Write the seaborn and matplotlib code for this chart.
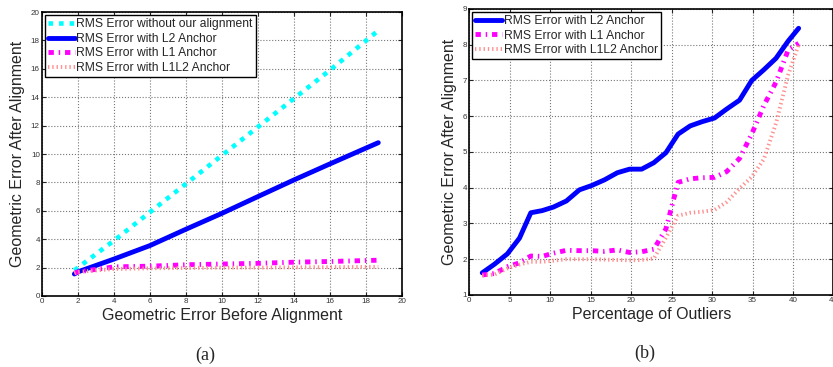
import numpy as np
import pandas as pd
import seaborn as sns
import matplotlib.pyplot as plt

# (a) error before alignment vs after
before = [1.8, 2.0, 4.0, 6.0, 8.0, 10.0, 12.0, 14.0, 16.0, 18.7]
no_align = [1.8, 2.0, 3.9, 5.9, 7.9, 9.9, 11.9, 13.9, 15.9, 18.7]
l2_a = [1.55, 1.7, 2.6, 3.55, 4.7, 5.82, 7.0, 8.17, 9.3, 10.8]
l1_a = [1.6, 1.7, 2.05, 2.1, 2.2, 2.25, 2.3, 2.38, 2.43, 2.52]
l1l2_a = [1.6, 1.7, 1.9, 1.95, 1.97, 2.0, 2.0, 2.02, 2.03, 2.05]

# (b) percentage of outliers
outliers = [1.6, 3.1, 4.7, 6.2, 7.6, 9.0, 10.4, 12.0, 13.6, 15.1, 16.7, 18.3, 19.8, 21.3,
            22.8, 24.3, 25.8, 27.3, 28.8, 30.3, 31.8, 33.4, 34.9, 36.4, 37.9, 39.4, 40.7]
l2_b = [1.62, 1.86, 2.15, 2.59, 3.30, 3.36, 3.46, 3.63, 3.94, 4.06, 4.22, 4.42, 4.52, 4.52,
        4.70, 4.98, 5.50, 5.73, 5.85, 5.95, 6.20, 6.45, 7.00, 7.30, 7.62, 8.10, 8.46]
l1_b = [1.56, 1.60, 1.79, 1.90, 2.09, 2.08, 2.17, 2.25, 2.24, 2.24, 2.22, 2.26, 2.19, 2.21,
        2.28, 2.85, 4.15, 4.25, 4.28, 4.29, 4.45, 4.82, 5.50, 6.30, 6.95, 7.85, 8.04]
l1l2_b = [1.55, 1.57, 1.74, 1.85, 1.93, 1.93, 1.96, 2.00, 2.00, 2.00, 1.99, 1.98, 1.97, 1.98,
          2.02, 2.60, 3.22, 3.30, 3.33, 3.38, 3.60, 3.98, 4.30, 4.80, 5.80, 7.15, 8.00]

sns.set_style("ticks")
plt.rcParams['font.family'] = ['Liberation Sans', 'DejaVu Sans']

fig = plt.figure(figsize=(8.33, 3.67), dpi=100)
ax1 = fig.add_axes([0.0504, 0.1935, 0.4318, 0.7735])
ax2 = fig.add_axes([0.5634, 0.1962, 0.4371, 0.7793])

cyan_style = dict(color='#00ffff', lw=3.3, linestyle=(0, (1.0, 1.3)))
blue_style = dict(color='#0000ff', lw=3.5, linestyle='-')
mag_style = dict(color='#ff00ff', lw=3.5, linestyle=(0, (1.1, 1.0, 0.3, 1.0)))
sal_style = dict(color='#ff9090', lw=2.8, linestyle=(0, (0.35, 0.75)))

sns.lineplot(x=before, y=no_align, ax=ax1, sort=False, label='RMS Error without our alignment', **cyan_style)
sns.lineplot(x=before, y=l2_a, ax=ax1, sort=False, label='RMS Error with L2 Anchor', **blue_style)
sns.lineplot(x=before, y=l1_a, ax=ax1, sort=False, label='RMS Error with L1 Anchor', **mag_style)
sns.lineplot(x=before, y=l1l2_a, ax=ax1, sort=False, label='RMS Error with L1L2 Anchor', **sal_style)

sns.lineplot(x=outliers, y=l2_b, ax=ax2, sort=False, label='RMS Error with L2 Anchor', **blue_style)
sns.lineplot(x=outliers, y=l1_b, ax=ax2, sort=False, label='RMS Error with L1 Anchor', **mag_style)
sns.lineplot(x=outliers, y=l1l2_b, ax=ax2, sort=False, label='RMS Error with L1L2 Anchor', **sal_style)

ax1.set_xlim(0, 20)
ax1.set_ylim(0, 20)
ax1.set_xticks(range(0, 21, 2))
ax1.set_yticks(range(0, 21, 2))
ax2.set_xlim(0, 45)
ax2.set_ylim(1, 9)
ax2.set_xticks(range(0, 46, 5))
ax2.set_yticks(range(1, 10))

ax1.set_xlabel('Geometric Error Before Alignment', fontsize=11.5, labelpad=2)
ax1.set_ylabel('Geometric Error After Alignment', fontsize=11.5, labelpad=4)
ax2.set_xlabel('Percentage of Outliers', fontsize=11.5, labelpad=2)
ax2.set_ylabel('Geometric Error After Alignment', fontsize=11.5, labelpad=4)

for ax in (ax1, ax2):
    ax.grid(True, linestyle=':', color='#777777', lw=0.8)
    ax.tick_params(direction='in', length=3, width=0.8, labelsize=5.8, pad=1.5,
                   top=True, right=True, labelcolor='#333333')
    for s in ax.spines.values():
        s.set_visible(True)
        s.set_linewidth(1.2)
        s.set_color('black')
    leg = ax.legend(loc='upper left', fontsize=8.7, handlelength=2.2, handletextpad=0.15,
                    borderpad=0.25, labelspacing=0.22, borderaxespad=0.25,
                    frameon=True, fancybox=False, framealpha=1)
    leg.get_frame().set_edgecolor('black')
    leg.get_frame().set_linewidth(1.0)

fig.text(0.246, 0.02, '(a)', fontsize=13, family='Liberation Serif', ha='center')
fig.text(0.774, 0.025, '(b)', fontsize=13, family='Liberation Serif', ha='center')

fig.savefig('out.png', dpi=100)
